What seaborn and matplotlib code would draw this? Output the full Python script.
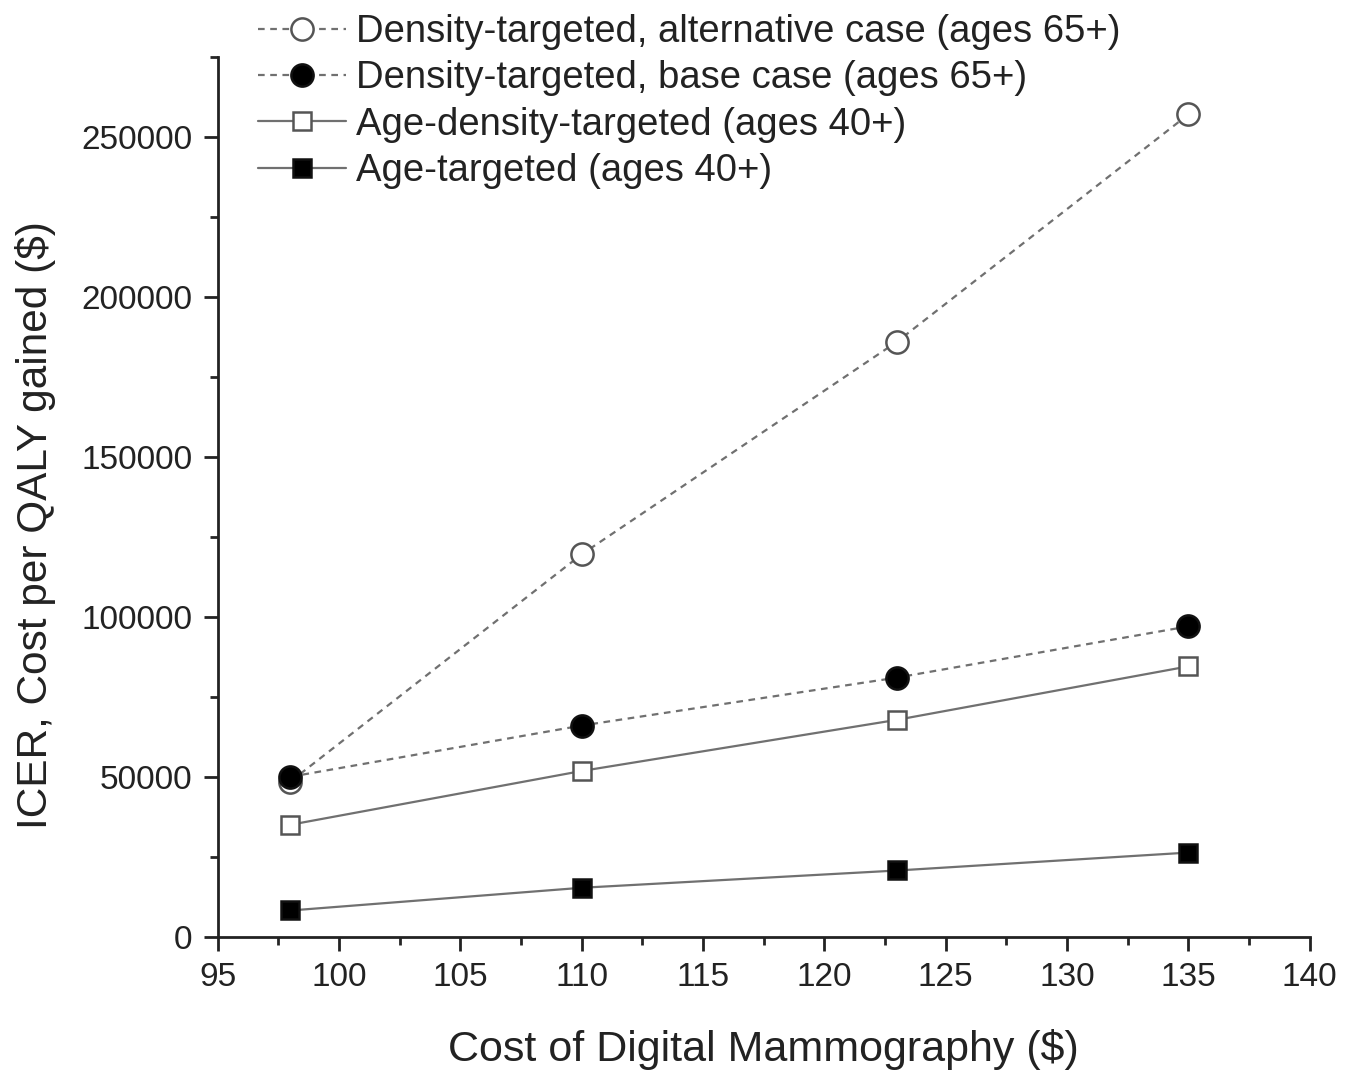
import pandas as pd
import matplotlib.pyplot as plt
import seaborn as sns
from matplotlib.ticker import MultipleLocator

# Data
cost = [98, 110, 123, 135]
alt_case = [48500, 119500, 186000, 257000]
base_case = [50000, 66000, 81000, 97000]
age_density = [35000, 51800, 67800, 84500]
age_targeted = [8200, 15300, 20700, 26300]

labels = ['Density-targeted, alternative case (ages 65+)',
          'Density-targeted, base case (ages 65+)',
          'Age-density-targeted (ages 40+)',
          'Age-targeted (ages 40+)']

sns.set_style('ticks')
plt.rcParams['font.family'] = ['Liberation Sans', 'DejaVu Sans']

fig = plt.figure(figsize=(13.6, 10.73), dpi=100)
ax = fig.add_axes([0.160, 0.127, 0.803, 0.820])

styles = [
    (alt_case, (0, (3, 2.5)), 'o', 'white', 16),
    (base_case, (0, (3, 2.5)), 'o', 'black', 16),
    (age_density, '-', 's', 'white', 13),
    (age_targeted, '-', 's', 'black', 13),
]

for (vals, ls, mk, fc, ms), lab in zip(styles, labels):
    df = pd.DataFrame({'cost': cost, 'icer': vals})
    sns.lineplot(data=df, x='cost', y='icer', ax=ax, color='#707070',
                 linestyle=ls, linewidth=1.6, marker=mk, markersize=ms,
                 markerfacecolor=fc, markeredgecolor='#111111' if fc == 'black' else '#555555',
                 markeredgewidth=1.8, label=lab, legend=False)

ax.set_xlim(95, 140)
ax.set_ylim(0, 275000)
ax.xaxis.set_major_locator(MultipleLocator(5))
ax.xaxis.set_minor_locator(MultipleLocator(2.5))
ax.yaxis.set_major_locator(MultipleLocator(50000))
ax.yaxis.set_minor_locator(MultipleLocator(25000))
ax.tick_params(which='major', direction='out', length=10, width=2, labelsize=24,
               colors='#222222', pad=8)
ax.tick_params(which='minor', direction='out', length=6, width=2)
for s in ['left', 'bottom']:
    ax.spines[s].set_linewidth(2)
    ax.spines[s].set_color('#222222')
sns.despine(ax=ax)

ax.set_xlabel('Cost of Digital Mammography ($)', fontsize=31, labelpad=26, color='#222222')
ax.set_ylabel('ICER, Cost per QALY gained ($)', fontsize=30.5, color='#222222')
ax.yaxis.set_label_coords(-0.148, 0.468)

handles, labs = ax.get_legend_handles_labels()
fig.legend(handles, labs, loc='upper left', bbox_to_anchor=(0.19, 0.987),
           frameon=False, fontsize=27.5, handlelength=2.3, handletextpad=0.26,
           labelspacing=0.27, borderpad=0, borderaxespad=0, labelcolor='#222222')

fig.savefig('out.png', dpi=100)
